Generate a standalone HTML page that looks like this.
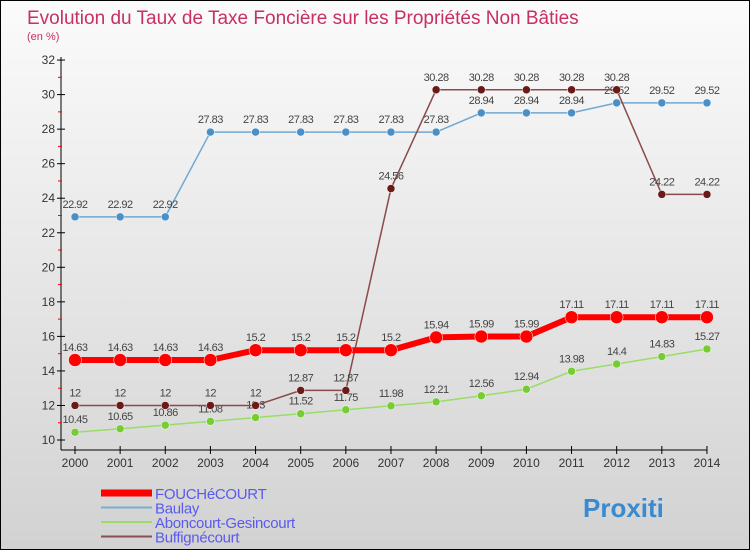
<!DOCTYPE html>
<html><head><meta charset="utf-8"><style>
body{margin:0}
#c{width:748px;height:548px;border:1px solid #000;background:linear-gradient(#fbfbfb,#d2d2d2);position:relative;font-family:"Liberation Sans","DejaVu Sans",sans-serif}
</style></head><body>
<div id="c">
<svg id="s" width="748" height="548" xmlns="http://www.w3.org/2000/svg"></svg>
</div>
<script>
const years=[2000,2001,2002,2003,2004,2005,2006,2007,2008,2009,2010,2011,2012,2013,2014];
const yTicks=[10,12,14,16,18,20,22,24,26,28,30,32];
const fouch=[14.63,14.63,14.63,14.63,15.2,15.2,15.2,15.2,15.94,15.99,15.99,17.11,17.11,17.11,17.11];
const baulay=[22.92,22.92,22.92,27.83,27.83,27.83,27.83,27.83,27.83,28.94,28.94,28.94,29.52,29.52,29.52];
const abon=[10.45,10.65,10.86,11.08,11.3,11.52,11.75,11.98,12.21,12.56,12.94,13.98,14.4,14.83,15.27];
const buff=[12,12,12,12,12,12.87,12.87,24.56,30.28,30.28,30.28,30.28,30.28,24.22,24.22];
const names=["FOUCHéCOURT","Baulay","Aboncourt-Gesincourt","Buffignécourt"];
const s=document.getElementById('s');const NS="http://www.w3.org/2000/svg";
function X(i){return 74+i*45.14}
function Y(v){return 439-(v-10)*17.27}
function el(t,a,txt,p){const e=document.createElementNS(NS,t);for(const k in a)e.setAttribute(k,a[k]);if(txt!=null)e.textContent=txt;(p||s).appendChild(e);return e}
let t=el('text',{x:26,y:23,'font-size':19,fill:'#c8305f'},'Evolution du Taux de Taxe Foncière sur les Propriétés Non Bâties');

t=el('text',{x:26,y:39,'font-size':11,fill:'#c8305f'},'(en %)');

t=el('line',{x1:60,y1:Y(32)-3,x2:60,y2:449,stroke:'#000'});

t=el('line',{x1:60,y1:449,x2:X(14),y2:449,stroke:'#000'});

yTicks.forEach(v=>{el('line',{x1:56,y1:Y(v),x2:64,y2:Y(v),stroke:'#000'});
 if(v<32){el('line',{x1:57,y1:Y(v+1),x2:61,y2:Y(v+1),stroke:'#f00'});}
 t=el('text',{x:54,y:Y(v)+4,'font-size':12,fill:'#333','text-anchor':'end'},v);
 });
years.forEach((y,i)=>{el('line',{x1:X(i),y1:445,x2:X(i),y2:453,stroke:'#000'});
 t=el('text',{x:X(i),y:466,'font-size':12,fill:'#333','text-anchor':'middle'},y);
 });
function series(d,col,w,r,dot,name){
 const g=el('g',{});
 el('polyline',{points:d.map((v,i)=>X(i)+','+Y(v)).join(' '),fill:'none',stroke:col,'stroke-width':w},null,g);
 d.forEach((v,i)=>{el('circle',{cx:X(i),cy:Y(v),r:r,fill:dot,stroke:'#fff','stroke-width':0.5},null,g);
  el('text',{x:X(i),y:Y(v)-9,'font-size':11,fill:'#444','text-anchor':'middle','letter-spacing':'-0.5'},v,g);});
}
series(baulay,'#6fa8d0',1.5,4,'#4a90c8','series-baulay');
series(abon,'#99dd66',1.5,4,'#77cc33','series-aboncourt');
series(buff,'#8a4a4a',1.5,4,'#6b1a1a','series-buffignecourt');
series(fouch,'#ff0000',6,6.5,'#ff0000','series-fouchecourt');
const lc=['#ff0000','#7aaed0','#99dd66','#8a5050'],lw=[7,2,2,2];
names.forEach((n,i)=>{const g=el('g',{});
 const y=492+i*14.5;el('line',{x1:100,y1:y,x2:151,y2:y,stroke:lc[i],'stroke-width':lw[i]},null,g);
 el('text',{x:154,y:y+6,'font-size':15,fill:'#5a5aee','letter-spacing':'-0.3'},n,g);});
t=el('text',{x:582,y:516,'font-size':26,'font-weight':'bold',fill:'#3a8ad0'},'Proxiti');

</script>
</body></html>
